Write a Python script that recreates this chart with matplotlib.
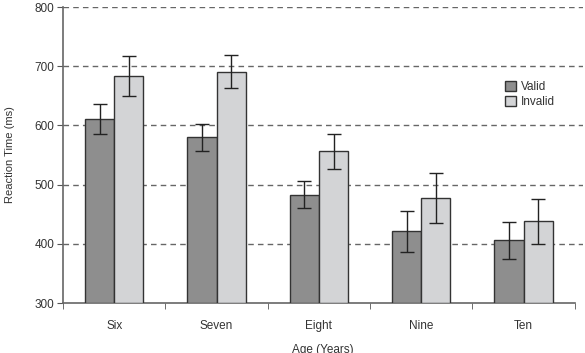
import numpy as np
import matplotlib
matplotlib.use("Agg")
import matplotlib.pyplot as plt

plt.rcParams["font.family"] = ["Liberation Sans", "DejaVu Sans"]

ages = ["Six", "Seven", "Eight", "Nine", "Ten"]
valid_rt = [611, 580, 483, 421, 406]
valid_err = [25, 23, 23, 34, 31]
invalid_rt = [683, 691, 556, 478, 438]
invalid_err = [34, 28, 30, 42, 38]

fig = plt.figure(figsize=(5.85, 3.53), dpi=100)
ax = fig.add_axes([0.1077, 0.1416, 0.8889, 0.8384])

x = np.arange(len(ages)) + 0.5
w = 0.285
err_kw = dict(ecolor="#222222", elinewidth=1.0, capsize=5, capthick=1.0)
ax.bar(x - w / 2, np.array(valid_rt) - 300, w, bottom=300, yerr=valid_err,
       color="#8e8e8e", edgecolor="#333333", lw=1.0, label="Valid",
       error_kw=err_kw, zorder=3)
ax.bar(x + w / 2, np.array(invalid_rt) - 300, w, bottom=300, yerr=invalid_err,
       color="#d3d4d6", edgecolor="#333333", lw=1.0, label="Invalid",
       error_kw=err_kw, zorder=3)

for y in range(400, 801, 100):
    ax.axhline(y, color="#666666", lw=1.0, ls=(0, (4, 3)), zorder=1)

ax.set_xlim(0, 5.08)
ax.set_ylim(300, 800)
ax.set_yticks(range(300, 801, 100))
ax.set_xticks(x)
ax.set_xticklabels(ages)
ax.set_xticks(np.arange(0, 6), minor=True)
ax.tick_params(axis="x", which="major", length=0, pad=12, labelsize=8.5,
               colors="#333333")
ax.tick_params(axis="x", which="minor", length=4, direction="out",
               color="#555555")
ax.tick_params(axis="y", length=4, direction="out", color="#555555",
               labelsize=8.5, labelcolor="#333333", pad=2)

for s in ["top", "right"]:
    ax.spines[s].set_visible(False)
ax.spines["left"].set_color("#666666")
ax.spines["bottom"].set_color("#666666")
ax.spines["left"].set_linewidth(1.2)
ax.spines["bottom"].set_linewidth(1.2)
ax.spines["bottom"].set_bounds(0, 5)

ax.set_ylabel("Reaction Time (ms)", fontsize=8, color="#333333", labelpad=14)
ax.set_xlabel("Age (Years)", fontsize=8.5, color="#333333", labelpad=9)

ax.legend(loc="upper left", bbox_to_anchor=(0.83, 0.785), frameon=False,
          fontsize=8.5, handlelength=0.9, handleheight=0.9,
          handletextpad=0.4, labelspacing=0.2, labelcolor="#333333")

fig.savefig("out.png", dpi=100)
